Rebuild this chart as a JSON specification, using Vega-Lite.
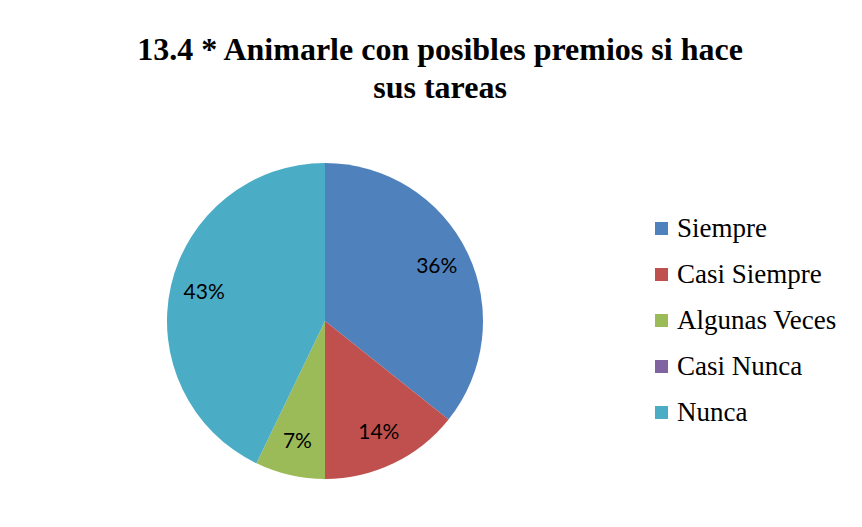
{
  "$schema": "https://vega.github.io/schema/vega-lite/v6.json",
  "autosize": {"type": "none"},
  "width": 316,
  "height": 316,
  "padding": {"left": 167, "top": 163, "right": 379, "bottom": 48},
  "background": "white",
  "title": {
    "text": ["13.4 * Animarle con posibles premios si hace", "sus tareas"],
    "font": "Liberation Serif",
    "fontSize": 32,
    "fontWeight": "bold",
    "color": "#000000",
    "anchor": "middle",
    "dx": 115,
    "offset": 58,
    "lineHeight": 38
  },
  "data": {
    "values": [
      {"categoria": "Siempre", "n": 5, "orden": 1},
      {"categoria": "Casi Siempre", "n": 2, "orden": 2},
      {"categoria": "Algunas Veces", "n": 1, "orden": 3},
      {"categoria": "Casi Nunca", "n": 0, "orden": 4},
      {"categoria": "Nunca", "n": 6, "orden": 5}
    ]
  },
  "transform": [
    {"joinaggregate": [{"op": "sum", "field": "n", "as": "total"}]},
    {"calculate": "format(datum.n / datum.total, '.0%')", "as": "pct"}
  ],
  "encoding": {
    "theta": {"field": "n", "type": "quantitative", "stack": true},
    "order": {"field": "orden", "type": "quantitative"},
    "color": {
      "field": "categoria",
      "type": "nominal",
      "sort": ["Siempre", "Casi Siempre", "Algunas Veces", "Casi Nunca", "Nunca"],
      "scale": {
        "domain": ["Siempre", "Casi Siempre", "Algunas Veces", "Casi Nunca", "Nunca"],
        "range": ["#4F81BD", "#C0504D", "#9BBB59", "#8064A2", "#4BACC6"]
      },
      "legend": {
        "title": null,
        "orient": "none",
        "legendX": 481,
        "legendY": 52,
        "symbolType": "square",
        "symbolSize": 169,
        "symbolStrokeWidth": 0,
        "labelFont": "Liberation Serif",
        "labelFontSize": 27,
        "labelColor": "#000000",
        "labelOffset": 2,
        "labelLimit": 300,
        "rowPadding": 18
      }
    }
  },
  "layer": [
    {"mark": {"type": "arc", "outerRadius": 158, "stroke": null}},
    {
      "transform": [{"filter": "datum.n > 0"}],
      "mark": {"type": "text", "radius": 124, "font": "Lato", "fontSize": 21, "color": "#000000"},
      "encoding": {"text": {"field": "pct"}, "color": {"value": "#000000"}}
    }
  ]
}
